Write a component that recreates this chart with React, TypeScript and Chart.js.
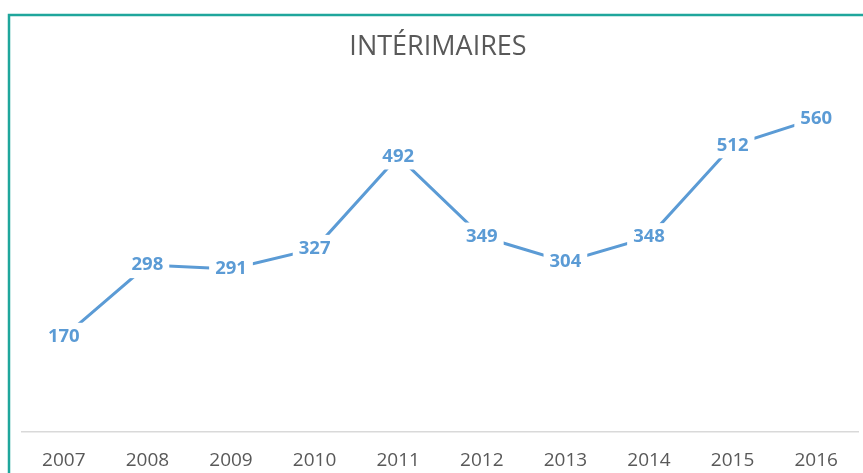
import React, { useEffect, useRef } from "react";
import { Chart, registerables } from "chart.js";

Chart.register(...registerables);

const years = ["2007", "2008", "2009", "2010", "2011", "2012", "2013", "2014", "2015", "2016"];
const interimaires = [170, 298, 291, 327, 492, 349, 304, 348, 512, 560];
const chartTitle = "INTÉRIMAIRES";

const W = 863;
const H = 473;

const framePlugin = {
  id: "frame",
  beforeDraw(chart: any) {
    const ctx = chart.ctx;
    ctx.save();
    ctx.fillStyle = "#ffffff";
    ctx.fillRect(0, 0, W, H);
    ctx.strokeStyle = "#1fa69c";
    ctx.lineWidth = 2.5;
    ctx.beginPath();
    ctx.moveTo(9, H + 5);
    ctx.lineTo(9, 15);
    ctx.lineTo(W + 5, 15);
    ctx.stroke();
    ctx.fillStyle = "#595959";
    ctx.font = "27px 'Open Sans'";
    ctx.textAlign = "center";
    ctx.textBaseline = "middle";
    ctx.fillText(chartTitle, 438, 47);
    ctx.restore();
  },
};

const labelPlugin = {
  id: "pointLabels",
  afterDatasetsDraw(chart: any) {
    const ctx = chart.ctx;
    const meta = chart.getDatasetMeta(0);
    const data = chart.data.datasets[0].data;
    ctx.save();
    ctx.font = "bold 18.5px 'Open Sans'";
    ctx.textAlign = "center";
    ctx.textBaseline = "middle";
    meta.data.forEach((pt: any, i: number) => {
      const txt = String(data[i]);
      const w = ctx.measureText(txt).width;
      ctx.fillStyle = "#ffffff";
      ctx.fillRect(pt.x - w / 2 - 6, pt.y - 14, w + 12, 27);
      ctx.fillStyle = "#5b9bd5";
      ctx.fillText(txt, pt.x, pt.y);
    });
    ctx.restore();
  },
};

export default function App() {
  const ref = useRef<HTMLCanvasElement>(null);
  useEffect(() => {
    if (!ref.current) return;
    const chart = new Chart(ref.current, {
      type: "line",
      data: {
        labels: years,
        datasets: [
          {
            data: interimaires,
            borderColor: "#5b9bd5",
            borderWidth: 3,
            pointRadius: 0,
            tension: 0,
            fill: false,
          },
        ],
      },
      options: {
        animation: false,
        responsive: false,
        layout: { padding: { left: 22, right: 5, top: 96, bottom: 0 } },
        plugins: { legend: { display: false }, title: { display: false }, tooltip: { enabled: false } },
        scales: {
          x: {
            offset: true,
            grid: { display: false, drawTicks: false },
            border: { display: true, color: "#d9d9d9", width: 1.5 },
            ticks: { color: "#595959", font: { family: "'Open Sans'", size: 19 }, padding: 17, maxRotation: 0 },
            afterFit(scale: any) {
              scale.height = 41;
            },
          },
          y: {
            display: false,
            min: 0,
            max: 600,
          },
        },
      },
      plugins: [framePlugin, labelPlugin],
    });
    return () => chart.destroy();
  }, []);
  return (
    <div style={{ position: "fixed", left: 0, top: 0, width: W, height: H }}>
      <canvas ref={ref} width={W} height={H} style={{ width: W, height: H, display: "block" }} />
    </div>
  );
}
